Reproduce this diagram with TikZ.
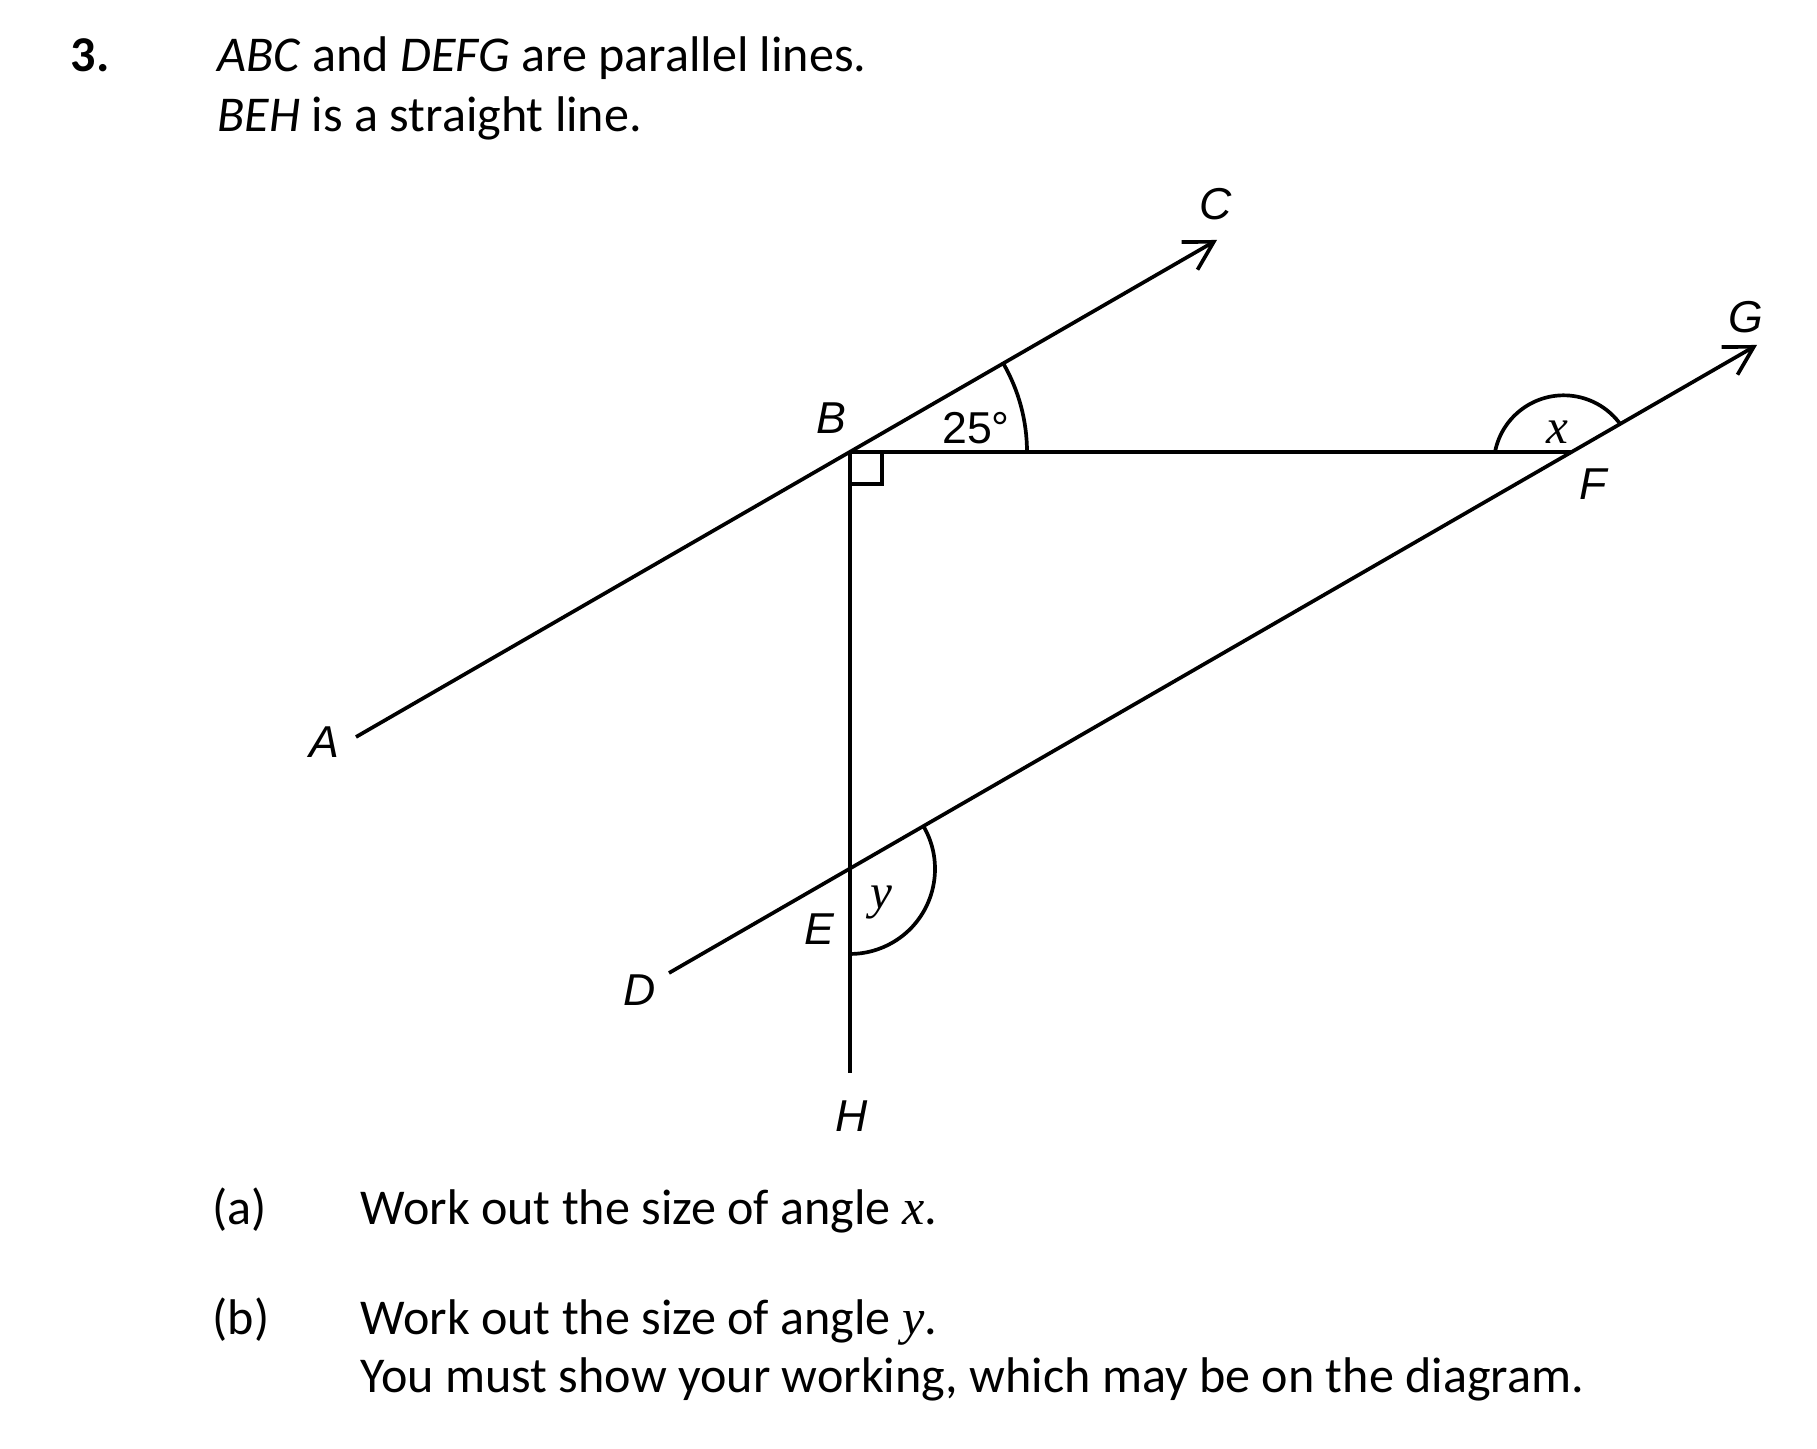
\documentclass[tikz,border=0pt]{standalone}
\usepackage{fontspec}
\setmainfont{Carlito}
\newfontfamily\lblfont{Liberation Sans}
\newfontfamily\varfont{Liberation Serif}
\usetikzlibrary{arrows.meta}

\tikzstyle{ligne}=[line width=1.05pt]
\tikzstyle{pointe}=[-{Straight Barb[length=2.8mm,width=3.2mm]}]
\tikzstyle{lettre}=[inner sep=0pt,font=\lblfont\itshape\fontsize{12.7}{15}\selectfont]
\tikzstyle{angle}=[inner sep=0pt,font=\varfont\itshape\fontsize{14}{17}\selectfont]
\tikzstyle{texte}=[inner sep=0pt,anchor=base west,font=\fontsize{14.25}{17}\selectfont]

\begin{document}
\begin{tikzpicture}[x=0.01cm,y=0.01cm]
\useasboundingbox (0,0) rectangle (1817,1449);
% enonce
\node[texte,font=\bfseries\fontsize{14.25}{17}\selectfont] (num) at (70,1377) {3.};
\node[texte] (l1) at (217,1377) {\textit{ABC} and \textit{DEFG} are parallel lines.};
\node[texte] (l2) at (217,1317) {\textit{BEH} is a straight line.};
% figure
\coordinate (A) at (356,712);
\coordinate (B) at (850,997);
\coordinate (C) at (1217,1209);
\coordinate (D) at (669,476);
\coordinate (E) at (850,580);
\coordinate (F) at (1572,997);
\coordinate (G) at (1757,1104);
\coordinate (H) at (850,376);
\draw [ligne,pointe] (A) -- (C);
\draw [ligne,pointe] (D) -- (G);
\draw [ligne] (B) -- (H);
\draw [ligne] (B) -- (F);
\draw [ligne] ([shift={(32,0)}]B) |- ([shift={(0,-32)}]B);
\draw [ligne] ([shift={(0:177)}]B) arc (0:30:177);
\draw [ligne] (1495,997) arc (169:36.5:70);
\draw [ligne] ([shift={(30:85)}]E) arc (30:-90:85);
\foreach \nom/\pos in {A/{324,707},B/{831,1031},C/{1216,1245},D/{640,459},
  E/{819,520},F/{1593,965},G/{1746,1132},H/{852,333}}
  \node[lettre] (n\nom) at (\pos) {\nom};
\node[lettre,font=\lblfont\fontsize{12.7}{15}\selectfont] (a25) at (976,1021) {25°};
\node[angle] (ax) at (1557,1017) {x};
\node[angle] (ay) at (881,546) {y};
% questions
\node[texte] (qa) at (212,224) {(a)};
\node[texte] (ta) at (360,224) {Work out the size of angle {\varfont\itshape x}.};
\node[texte] (qb) at (212,114) {(b)};
\node[texte] (tb) at (360,114) {Work out the size of angle {\varfont\itshape y}.};
\node[texte] (tc) at (360,56) {You must show your working, which may be on the diagram.};
\end{tikzpicture}
\end{document}
